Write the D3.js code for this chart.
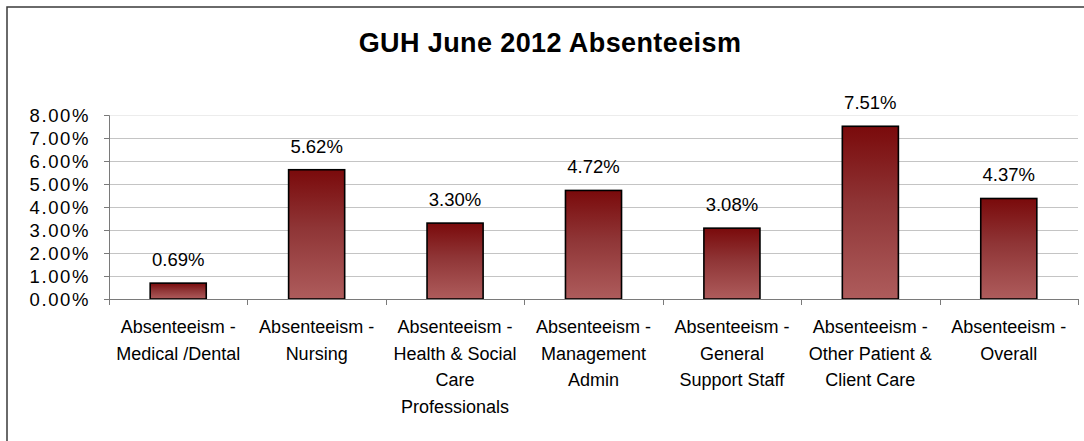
<!DOCTYPE html>
<html>
<head>
<meta charset="utf-8">
<script src="https://cdn.jsdelivr.net/npm/d3@7"></script>
<style>
  html, body { margin: 0; padding: 0; background: #fff; }
  svg { display: block; font-family: "Liberation Sans", Arial, sans-serif; }
</style>
</head>
<body>
<svg id="chart" width="1084" height="441"></svg>
<script>
const title = "GUH June 2012 Absenteeism";
const categories = [
  ["Absenteeism -", "Medical /Dental"],
  ["Absenteeism -", "Nursing"],
  ["Absenteeism -", "Health & Social", "Care", "Professionals"],
  ["Absenteeism -", "Management", "Admin"],
  ["Absenteeism -", "General", "Support Staff"],
  ["Absenteeism -", "Other Patient &", "Client Care"],
  ["Absenteeism -", "Overall"]
];
const values = [0.0069, 0.0562, 0.0330, 0.0472, 0.0308, 0.0751, 0.0437];
const valueLabels = ["0.69%", "5.62%", "3.30%", "4.72%", "3.08%", "7.51%", "4.37%"];
const yTicks = [0, 0.01, 0.02, 0.03, 0.04, 0.05, 0.06, 0.07, 0.08];

const svg = d3.select("#chart");
const W = 1084, H = 441;
const plot = { left: 109, right: 1078, top: 115, bottom: 299 };

// outer chart border (left and top visible)
svg.append("rect")
  .attr("x", 7).attr("y", 7)
  .attr("width", W + 10).attr("height", H + 10)
  .attr("fill", "#fff")
  .attr("stroke", "#3a3a3a").attr("stroke-width", 1.5);

// gradient
const defs = svg.append("defs");
const grad = defs.append("linearGradient")
  .attr("id", "barGrad").attr("x1", 0).attr("y1", 0).attr("x2", 0).attr("y2", 1);
grad.append("stop").attr("offset", "0%").attr("stop-color", "#7a0a0b");
grad.append("stop").attr("offset", "45%").attr("stop-color", "#8f3536");
grad.append("stop").attr("offset", "100%").attr("stop-color", "#ae5c5c");

// title
svg.append("text")
  .attr("x", 550).attr("y", 52)
  .attr("text-anchor", "middle")
  .attr("font-size", 27).attr("font-weight", "bold")
  .attr("letter-spacing", 0.4)
  .attr("fill", "#000")
  .text(title);

const x = d3.scaleBand()
  .domain(d3.range(categories.length))
  .range([plot.left, plot.right])
  .padding(0);
const y = d3.scaleLinear().domain([0, 0.08]).range([plot.bottom, plot.top]);

// gridlines
svg.append("g").selectAll("line")
  .data(yTicks.filter(d => d > 0))
  .join("line")
  .attr("x1", plot.left).attr("x2", plot.right)
  .attr("y1", d => Math.round(y(d)) + 0.5).attr("y2", d => Math.round(y(d)) + 0.5)
  .attr("stroke", d => d === 0.08 ? "#ececec" : "#c4c4c4")
  .attr("stroke-width", 1);

// y axis
const yAxis = d3.axisLeft(y).tickValues(yTicks).tickSize(5).tickPadding(14)
  .tickFormat(d3.format(".2%"));
const gy = svg.append("g").attr("transform", `translate(${plot.left},0)`).call(yAxis);
gy.select(".domain").attr("stroke", "#7a7a7a");
gy.selectAll(".tick line").attr("stroke", "#7a7a7a");
gy.selectAll(".tick text")
  .attr("font-size", 18.5).attr("letter-spacing", 1.6)
  .attr("font-family", "Liberation Sans, Arial, sans-serif")
  .attr("fill", "#000").attr("dy", "0.36em");

// bars
const barW = x.bandwidth() * 0.405;
svg.append("g").selectAll("rect")
  .data(values)
  .join("rect")
  .attr("x", (d, i) => x(i) + (x.bandwidth() - barW) / 2)
  .attr("y", d => y(d))
  .attr("width", barW)
  .attr("height", d => y(0) - y(d))
  .attr("fill", "url(#barGrad)")
  .attr("stroke", "#000").attr("stroke-width", 1.6);

// value labels
svg.append("g").selectAll("text")
  .data(values)
  .join("text")
  .attr("x", (d, i) => x(i) + x.bandwidth() / 2)
  .attr("y", d => y(d) - 17)
  .attr("text-anchor", "middle")
  .attr("font-size", 18.5)
  .attr("fill", "#000")
  .text((d, i) => valueLabels[i]);

// x axis
svg.append("line")
  .attr("x1", plot.left).attr("x2", plot.right)
  .attr("y1", plot.bottom + 0.5).attr("y2", plot.bottom + 0.5)
  .attr("stroke", "#7a7a7a");
const boundaries = d3.range(categories.length + 1).map(i => i < categories.length ? x(i) : plot.right);
svg.append("g").selectAll("line")
  .data(boundaries)
  .join("line")
  .attr("x1", d => Math.round(d) + 0.5).attr("x2", d => Math.round(d) + 0.5)
  .attr("y1", plot.bottom).attr("y2", plot.bottom + 6)
  .attr("stroke", "#7a7a7a");

// category labels
const catG = svg.append("g");
categories.forEach((lines, i) => {
  const t = catG.append("text")
    .attr("text-anchor", "middle")
    .attr("font-size", 18)
    .attr("fill", "#000");
  lines.forEach((ln, j) => {
    t.append("tspan")
      .attr("x", x(i) + x.bandwidth() / 2)
      .attr("y", 333 + j * 26.5)
      .text(ln);
  });
});
</script>
</body>
</html>
